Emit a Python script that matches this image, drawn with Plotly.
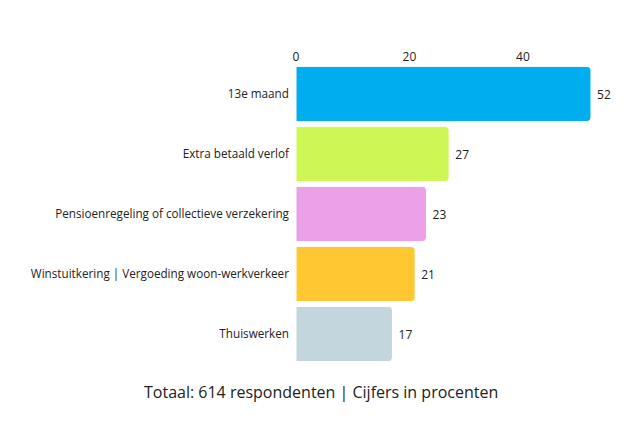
import plotly.graph_objects as go

categories = ["13e maand", "Extra betaald verlof", "Pensioenregeling of collectieve verzekering",
              "Winstuitkering | Vergoeding woon-werkverkeer", "Thuiswerken"]
values = [52, 27, 23, 21, 17]
colors = ["#00AEEF", "#CEF655", "#EBA0E8", "#FFC832", "#C3D6DD"]
tick_vals = [0, 20, 40]
footer = "Totaal: 614 respondenten | Cijfers in procenten"

W, H = 640, 431
L, R, T, B = 288, 40, 56, 75

fig = go.Figure(go.Bar(
    x=values, y=categories, orientation="h",
    marker=dict(color=colors, line=dict(color="white", width=1), cornerradius=4),
    text=values, texttemplate=" %{x}", textposition="outside", cliponaxis=False,
    textfont=dict(family="Open Sans", size=12, color="#222"),
    width=0.92,
))
plot_w = W - L - R
plot_h = H - T - B
fig.update_layout(
    width=W, height=H,
    margin=dict(l=L, r=R, t=T, b=B, autoexpand=False),
    paper_bgcolor="white", plot_bgcolor="white",
    font=dict(family="Open Sans", size=12, color="#222"),
    showlegend=False,
    xaxis=dict(side="top", range=[0, 55.0], tickvals=tick_vals, showgrid=False,
               zeroline=False, showline=False, ticks="", tickfont=dict(size=12),
               automargin=False),
    yaxis=dict(autorange="reversed", showgrid=False, showline=False, ticks="",
               ticksuffix="  ", tickfont=dict(size=11.7), automargin=False),
    annotations=[dict(text=footer, xref="paper", yref="paper",
                      x=(313 - L) / plot_w, xanchor="center",
                      y=-(384 - (H - B)) / plot_h, yanchor="middle",
                      showarrow=False, font=dict(size=16, color="#222"))],
)
fig.write_html("out.html")
